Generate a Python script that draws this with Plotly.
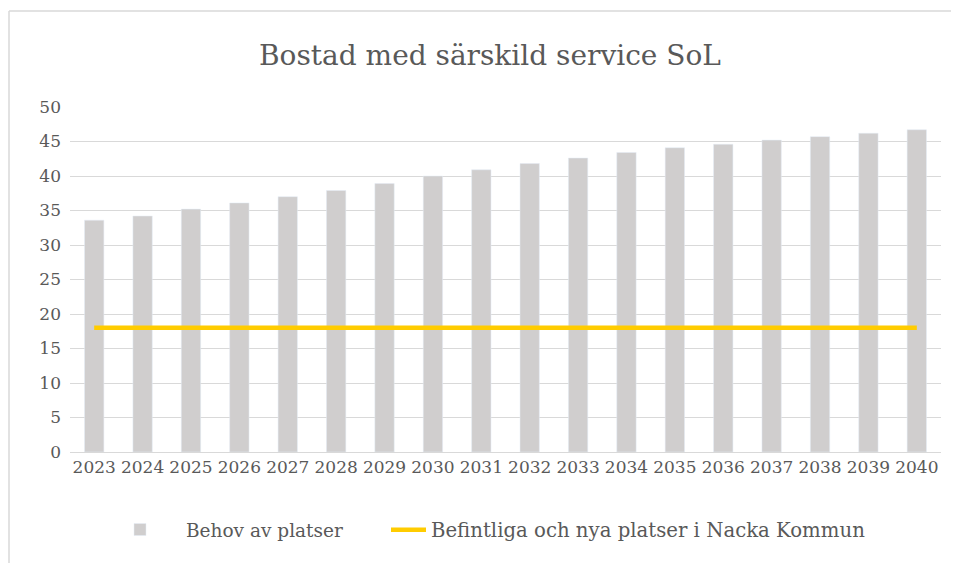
import plotly.graph_objects as go

years = [str(y) for y in range(2023, 2041)]
behov = [33.6, 34.2, 35.2, 36.1, 37.0, 37.9, 38.9, 40.0, 40.9, 41.8, 42.6, 43.4, 44.1, 44.6, 45.2, 45.7, 46.2, 46.7]
befintliga = [18] * len(years)

FONT = "DejaVu Serif"
TXT = "#595959"

fig = go.Figure()
fig.add_trace(go.Bar(x=years, y=behov, name="Behov av platser", marker_color="#D0CECE",
                     legend="legend"))
fig.add_trace(go.Scatter(x=years, y=befintliga, name="Befintliga och nya platser i Nacka Kommun",
                         mode="lines", line=dict(color="#FFCC00", width=4.5), legend="legend2"))

OFF = 8  # page body margin
W, H = 959, 563
PL, PR, PT, PB = 70, 941, 107, 452
L, T = PL - OFF, PT - OFF
R = W - (PR - OFF)
B = H - (PB - OFF)
pw, ph = W - L - R, H - T - B

def px(x):
    return (x - OFF - L) / pw

def py(y):
    return (H - B - (y - OFF)) / ph

fig.update_layout(
    width=W, height=H,
    margin=dict(l=L, r=R, t=T, b=B),
    paper_bgcolor="white", plot_bgcolor="white",
    font=dict(family=FONT, color=TXT, size=17),
    title=dict(text="Bostad med särskild service SoL", x=px(490), xanchor="center",
               xref="paper", y=1 - (55 - OFF) / H, yanchor="middle",
               font=dict(family=FONT, size=28, color=TXT)),
    bargap=0.6,
    showlegend=True,
    legend=dict(orientation="h", x=px(94), xanchor="left", y=py(530), yanchor="middle",
                font=dict(family=FONT, size=18.5, color=TXT), itemwidth=82),
    legend2=dict(orientation="h", x=px(386), xanchor="left", y=py(530), yanchor="middle",
                 font=dict(family=FONT, size=19.7, color=TXT), itemwidth=35),
    xaxis=dict(showgrid=False, ticks="", tickfont=dict(size=17, color=TXT),
               showline=True, linecolor="#D9D9D9", linewidth=1),
    yaxis=dict(range=[0, 50], dtick=5, showgrid=True, gridcolor="#D9D9D9", gridwidth=1,
               zeroline=False, ticks="", tickfont=dict(size=17, color=TXT), ticklabelstandoff=8),
    shapes=[
        dict(type="line", xref="paper", yref="paper", x0=px(9), x1=px(970), y0=py(11), y1=py(11),
             line=dict(color="#D9D9D9", width=1.5)),
        dict(type="line", xref="paper", yref="paper", x0=px(9), x1=px(9), y0=py(11), y1=py(575),
             line=dict(color="#D9D9D9", width=1.5)),
    ],
)

fig.write_html("out.html")
